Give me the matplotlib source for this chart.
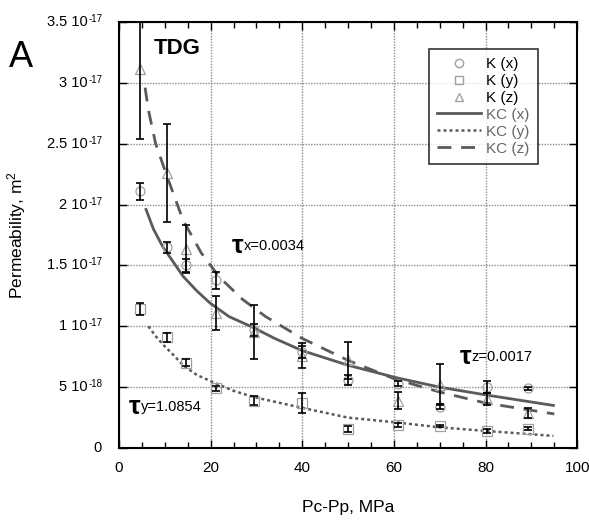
import numpy as np
import matplotlib
matplotlib.use("Agg")
import matplotlib.pyplot as plt
from matplotlib.ticker import MultipleLocator
from matplotlib.lines import Line2D

plt.rcParams['font.family'] = ['Liberation Sans', 'DejaVu Sans']
plt.rcParams['mathtext.fontset'] = 'custom'
plt.rcParams['mathtext.rm'] = 'Liberation Sans'
plt.rcParams['mathtext.default'] = 'regular'

# measured permeability (units of 1e-17 m^2)
p_meas = [4.6, 10.5, 14.6, 21.2, 29.5, 40.0, 50.0, 60.8, 70.1, 80.4, 89.2]
k_x = [2.11, 1.65, 1.50, 1.38, 0.97, 0.79, 0.56, 0.53, 0.34, 0.50, 0.49]
k_x_err = [0.07, 0.045, 0.05, 0.07, 0.05, 0.05, 0.04, 0.02, 0.02, 0.05, 0.015]
k_y = [1.14, 0.91, 0.70, 0.49, 0.39, 0.37, 0.16, 0.19, 0.18, 0.14, 0.16]
k_y_err = [0.05, 0.035, 0.03, 0.02, 0.04, 0.08, 0.025, 0.015, 0.01, 0.015, 0.015]
k_z = [3.11, 2.26, 1.635, 1.11, 0.955, 0.76, 0.72, 0.39, 0.52, 0.40, 0.29]
k_z_err = [0.57, 0.40, 0.20, 0.14, 0.22, 0.10, 0.15, 0.07, 0.17, 0.05, 0.04]

# Kozeny-Carman curves
kcx_p = [5.9, 7.5, 9.6, 12, 14, 17, 19.9, 24, 29.3, 34, 40, 50, 60.3, 70, 80.3, 94.8]
kcx_k = [1.96, 1.80, 1.65, 1.52, 1.41, 1.29, 1.19, 1.08, 0.99, 0.90, 0.80, 0.68, 0.58, 0.50, 0.435, 0.35]
kcy_p = [6.4, 8, 9.6, 12, 14.0, 17, 20.6, 25, 29.3, 34, 40, 50, 60.7, 70, 80.3, 94.8]
kcy_k = [1.0, 0.92, 0.85, 0.76, 0.68, 0.60, 0.54, 0.47, 0.42, 0.38, 0.33, 0.25, 0.21, 0.17, 0.14, 0.10]
kcz_p = [5.7, 6.4, 8, 10.5, 14, 18, 22, 27, 32, 40, 50, 60, 70, 80, 95]
kcz_k = [2.96, 2.78, 2.50, 2.23, 1.87, 1.60, 1.40, 1.22, 1.08, 0.90, 0.72, 0.57, 0.46, 0.37, 0.28]

# y tick labels: mantissa and exponent
ytick_mant = ['0', '5', '1', '1.5', '2', '2.5', '3', '3.5']
ytick_exp = ['', '-18', '-17', '-17', '-17', '-17', '-17', '-17']

scale = 1e-17
mk_col = '#a0a0a0'
ln_col = '#5a5a5a'

fig = plt.figure(figsize=(5.89, 5.21), dpi=100)
ax = fig.add_axes([0.202, 0.140, 0.778, 0.818])

for k, err, m in [(k_x, k_x_err, 'o'), (k_y, k_y_err, 's'), (k_z, k_z_err, '^')]:
    kk = np.array(k) * scale
    ee = np.array(err) * scale
    ax.plot(p_meas, kk, m, ms=6.5, mfc='none', mec=mk_col, mew=0.9, zorder=3)
    ax.errorbar(p_meas, kk, yerr=ee, fmt='none', ecolor='black', elinewidth=1.2,
                capsize=3, capthick=1.2, zorder=4)

ax.plot(kcx_p, np.array(kcx_k) * scale, '-', color=ln_col, lw=2, zorder=2)
ax.plot(kcy_p, np.array(kcy_k) * scale, color=ln_col, lw=1.8, ls=(0, (1.2, 1.2)), zorder=2)
ax.plot(kcz_p, np.array(kcz_k) * scale, color=ln_col, lw=2, ls=(0, (5, 3.5)), zorder=2)

ax.set_xlim(0, 100)
ax.set_ylim(0, 3.5e-17)
ax.xaxis.set_major_locator(MultipleLocator(20))
ax.xaxis.set_minor_locator(MultipleLocator(5))
ax.yaxis.set_major_locator(MultipleLocator(5e-18))

ax.tick_params(which='both', direction='in', top=True, right=True)
ax.tick_params(axis='x', labelsize=11, pad=9)
ax.tick_params(axis='y', labelleft=False)
ax.tick_params(which='major', length=6, width=1)
ax.tick_params(which='minor', length=4, width=1)
ax.grid(True, which='major', color='#8c8c8c', lw=1.0, ls=(0, (1, 1)))
for s in ax.spines.values():
    s.set_linewidth(1.5)

# y tick labels drawn as text: "3.5 10" with a small raised exponent
ytr = ax.get_yaxis_transform()
for i, (mt, ex) in enumerate(zip(ytick_mant, ytick_exp)):
    yv = i * 5e-18
    if ex == '':
        ax.text(-0.037, yv, mt, transform=ytr, ha='right', va='center', fontsize=10.5)
    else:
        ax.text(-0.0677, yv, mt + ' 10', transform=ytr, ha='right', va='center', fontsize=10.5)
        ax.text(-0.0655, yv, ex, transform=ytr, ha='left', va='baseline', fontsize=7)

ax.set_xlabel('Pc-Pp, MPa', fontsize=12.5, labelpad=18)
ax.set_ylabel('Permeability, m$^2$', fontsize=12.5)
ax.yaxis.set_label_coords(-0.199, 0.5)

ax.text(7.6, 3.28e-17, 'TDG', fontsize=16, fontweight='bold', va='center')
fig.text(0.015, 0.889, 'A', fontsize=26, va='center')

ax.text(24.7, 1.66e-17, 'τ', fontsize=19, fontweight='bold', va='center')
ax.text(27.3, 1.66e-17, 'x=0.0034', fontsize=10.5, va='center')
ax.text(2.2, 0.34e-17, 'τ', fontsize=19, fontweight='bold', va='center')
ax.text(4.8, 0.34e-17, 'y=1.0854', fontsize=10.5, va='center')
ax.text(74.4, 0.75e-17, 'τ', fontsize=19, fontweight='bold', va='center')
ax.text(77.0, 0.75e-17, 'z=0.0017', fontsize=10.5, va='center')

handles = [
    Line2D([], [], ls='none', marker='o', ms=6, mfc='none', mec=mk_col),
    Line2D([], [], ls='none', marker='s', ms=6, mfc='none', mec=mk_col),
    Line2D([], [], ls='none', marker='^', ms=6, mfc='none', mec=mk_col),
    Line2D([], [], color=ln_col, lw=2),
    Line2D([], [], color=ln_col, lw=1.8, ls=(0, (1.2, 1.2))),
    Line2D([], [], color=ln_col, lw=2, ls=(0, (5, 3.5))),
]
labels = ['K (x)', 'K (y)', 'K (z)', 'KC (x)', 'KC (y)', 'KC (z)']
leg = ax.legend(handles, labels, loc='upper right', bbox_to_anchor=(0.915, 0.937),
                fontsize=11, frameon=True, fancybox=False, edgecolor='black',
                handlelength=2.9, handletextpad=0.33, labelspacing=0.19,
                borderpad=0.55, borderaxespad=0)
leg.get_frame().set_linewidth(1.2)
for i, t in enumerate(leg.get_texts()):
    t.set_color('black' if i < 3 else '#666666')

fig.savefig('out.png', dpi=100)
